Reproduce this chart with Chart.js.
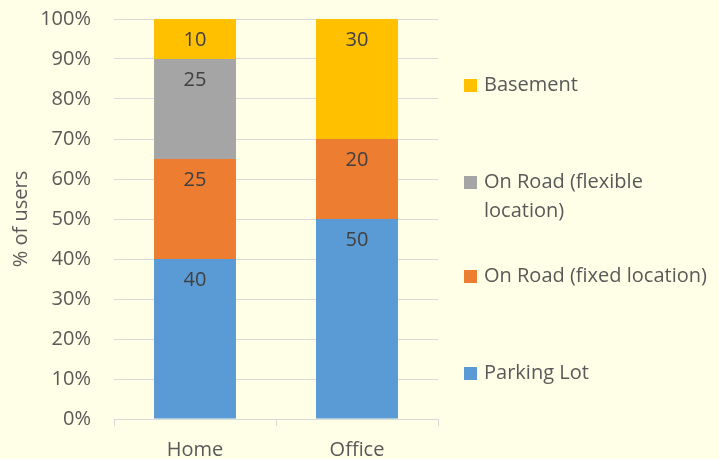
<!DOCTYPE html>
<html>
<head>
<meta charset="utf-8">
<script src="https://cdn.jsdelivr.net/npm/chart.js@4"></script>
<style>
  html, body { margin: 0; padding: 0; background: #FFFFE8; }
  #wrap { width: 719px; height: 459px; }
</style>
</head>
<body>
<div id="wrap"><canvas id="grafico" width="719" height="459"></canvas></div>
<script>
// categorías y series (porcentaje de usuarios)
const categorias = ['Home', 'Office'];
const parkingLot = [40, 50];
const onRoadFixed = [25, 20];
const onRoadFlexible = [25, 0];
const basement = [10, 30];
const ticksY = [0, 10, 20, 30, 40, 50, 60, 70, 80, 90, 100];

const FUENTE = '"Open Sans", Lato, sans-serif';

// etiquetas de valor dentro de cada tramo, cerca del borde superior
const etiquetasValor = {
    id: 'etiquetasValor',
    afterDatasetsDraw(chart) {
        const ctx = chart.ctx;
        ctx.save();
        ctx.font = '20px ' + FUENTE;
        ctx.fillStyle = '#404040';
        ctx.textAlign = 'center';
        ctx.textBaseline = 'middle';
        chart.data.datasets.forEach((ds, i) => {
            const meta = chart.getDatasetMeta(i);
            meta.data.forEach((bar, j) => {
                const v = ds.data[j];
                if (!v) return;
                ctx.fillText(String(v), bar.x, bar.y + 21);
            });
        });
        ctx.restore();
    }
};

// leyenda a la derecha, de arriba hacia abajo (orden inverso de apilado)
const leyendaDerecha = {
    id: 'leyendaDerecha',
    afterDraw(chart) {
        const ctx = chart.ctx;
        const items = [
            { ds: 3, lineas: ['Basement'], y: 85 },
            { ds: 2, lineas: ['On Road (flexible', 'location)'], y: 182 },
            { ds: 1, lineas: ['On Road (fixed location)'], y: 276 },
            { ds: 0, lineas: ['Parking Lot'], y: 373 }
        ];
        ctx.save();
        ctx.font = '20px ' + FUENTE;
        ctx.textBaseline = 'middle';
        ctx.textAlign = 'left';
        items.forEach(it => {
            ctx.fillStyle = chart.data.datasets[it.ds].backgroundColor;
            ctx.fillRect(464, it.y - 6, 13, 13);
            ctx.fillStyle = '#595959';
            it.lineas.forEach((t, k) => ctx.fillText(t, 484, it.y + k * 29));
        });
        ctx.restore();
    }
};

new Chart(document.getElementById('grafico'), {
    type: 'bar',
    data: {
        labels: categorias,
        datasets: [
            { label: 'Parking Lot', data: parkingLot, backgroundColor: '#5B9BD5' },
            { label: 'On Road (fixed location)', data: onRoadFixed, backgroundColor: '#ED7D31' },
            { label: 'On Road (flexible location)', data: onRoadFlexible, backgroundColor: '#A5A5A5' },
            { label: 'Basement', data: basement, backgroundColor: '#FFC000' }
        ]
    },
    options: {
        responsive: false,
        animation: false,
        barPercentage: 0.506,
        categoryPercentage: 1,
        layout: { padding: { left: 0, right: 281, top: 19, bottom: 0 } },
        plugins: { legend: { display: false }, tooltip: { enabled: false } },
        scales: {
            x: {
                stacked: true,
                grid: { display: true, drawOnChartArea: false, drawTicks: true, tickLength: 7, color: '#D9D9D9', offset: true },
                border: { color: '#D9D9D9' },
                ticks: { color: '#595959', font: { size: 20, family: FUENTE }, padding: 12 },
                afterFit: s => { s.height = 40; }
            },
            y: {
                stacked: true,
                min: 0,
                max: 100,
                afterBuildTicks: s => { s.ticks = ticksY.map(v => ({ value: v })); },
                // marcas invisibles: sólo separan los rótulos de la zona del gráfico
                grid: { color: '#D9D9D9', drawTicks: true, tickLength: 23, tickColor: 'rgba(0,0,0,0)' },
                border: { display: false },
                ticks: { color: '#595959', font: { size: 20, family: FUENTE }, padding: 0, callback: v => v + '%' },
                title: { display: true, text: '% of users', color: '#595959', font: { size: 20, family: FUENTE }, padding: { top: 9, bottom: 0 } },
                afterFit: s => { s.width = 114; }
            }
        }
    },
    plugins: [etiquetasValor, leyendaDerecha]
});
</script>
</body>
</html>
